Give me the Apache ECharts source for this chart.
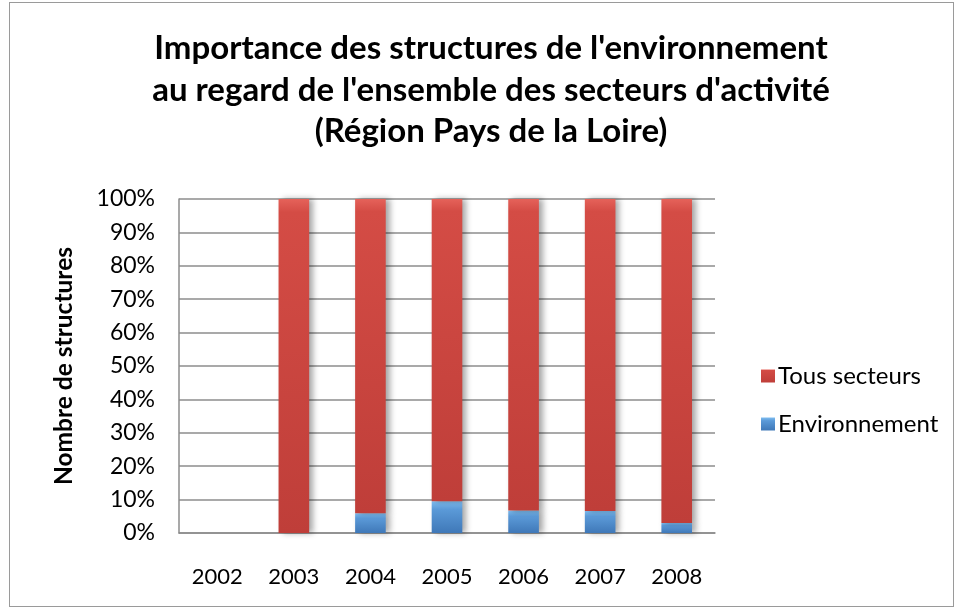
<!DOCTYPE html>
<html>
<head>
<meta charset="utf-8">
<script src="https://cdn.jsdelivr.net/npm/echarts@6/dist/echarts.min.js"></script>
<style>
  html, body { margin: 0; padding: 0; background: #fff; }
  #frame { position: absolute; left: 9px; top: 2px; width: 943px; height: 603px; border: 1px solid #9a9a9a; }
  #chart { position: absolute; left: 0; top: 0; width: 956px; height: 609px; }
</style>
</head>
<body>
<div id="frame"></div>
<div id="chart"></div>
<script>
// années et parts (en %)
var annees = ['2002', '2003', '2004', '2005', '2006', '2007', '2008'];
var environnement = [0, 0, 5.9, 9.5, 6.7, 6.6, 3.0];
var tousSecteurs = [0, 100, 94.1, 90.5, 93.3, 93.4, 97.0];
var ticksPct = [0, 10, 20, 30, 40, 50, 60, 70, 80, 90, 100];

(function(){
  var font = 'Lato, "Open Sans", sans-serif';
  var opt = {
    animation: false,
    title: {
      text: "Importance des structures de l'environnement\nau regard de l'ensemble des secteurs d'activité\n(Région Pays de la Loire)",
      left: 486,
      textAlign: 'center',
      top: 23,
      textStyle: { fontFamily: font, fontSize: 33, fontWeight: 'bold', color: '#000', lineHeight: 41.5 }
    },
    legend: {
      orient: 'vertical',
      left: 756,
      top: 359,
      itemWidth: 14,
      itemHeight: 13,
      itemGap: 24,
      icon: 'rect',
      data: ['Tous secteurs', 'Environnement'],
      textStyle: { fontFamily: font, fontSize: 24, color: '#000', padding: [0, 0, 0, -2] }
    },
    grid: { left: 179, right: 241, top: 199, bottom: 76 },
    xAxis: {
      type: 'category',
      data: annees,
      axisTick: { show: false },
      axisLine: { lineStyle: { color: '#8c8c8c', width: 1.5 } },
      axisLabel: { fontFamily: font, fontSize: 22, color: '#000', margin: 33 }
    },
    yAxis: {
      type: 'value',
      min: ticksPct[0],
      max: ticksPct[ticksPct.length - 1],
      interval: 10,
      name: 'Nombre de structures',
      nameLocation: 'middle',
      nameGap: 102,
      nameRotate: 90,
      nameTextStyle: { fontFamily: font, fontSize: 24.5, fontWeight: 'bold', color: '#000' },
      axisLine: { show: true, lineStyle: { color: '#8c8c8c', width: 1.5 } },
      axisTick: { show: false },
      splitLine: { lineStyle: { color: '#8c8c8c', width: 1.5 } },
      axisLabel: { fontFamily: font, fontSize: 23, color: '#000', margin: 24, formatter: '{value}%' }
    },
    series: [
      {
        name: 'Environnement',
        type: 'bar',
        stack: 'total',
        barWidth: '40%',
        data: environnement,
        itemStyle: {
          color: new echarts.graphic.LinearGradient(0, 0, 0, 1, [
            { offset: 0, color: '#7fbdf0' },
            { offset: 0.25, color: '#5b9ad8' },
            { offset: 1, color: '#3f78b8' }
          ]),
          shadowColor: 'rgba(0,0,0,0.35)', shadowBlur: 6, shadowOffsetX: 4
        }
      },
      {
        name: 'Tous secteurs',
        type: 'bar',
        stack: 'total',
        barWidth: '40%',
        data: tousSecteurs,
        itemStyle: {
          color: new echarts.graphic.LinearGradient(0, 0, 0, 1, [
            { offset: 0, color: '#e5625a' },
            { offset: 0.04, color: '#d44c45' },
            { offset: 1, color: '#bf3e39' }
          ]),
          shadowColor: 'rgba(0,0,0,0.35)', shadowBlur: 6, shadowOffsetX: 4
        }
      }
    ]
  };
  var chart = echarts.init(document.getElementById('chart'));
  chart.setOption(opt);
})();
</script>
</body>
</html>
